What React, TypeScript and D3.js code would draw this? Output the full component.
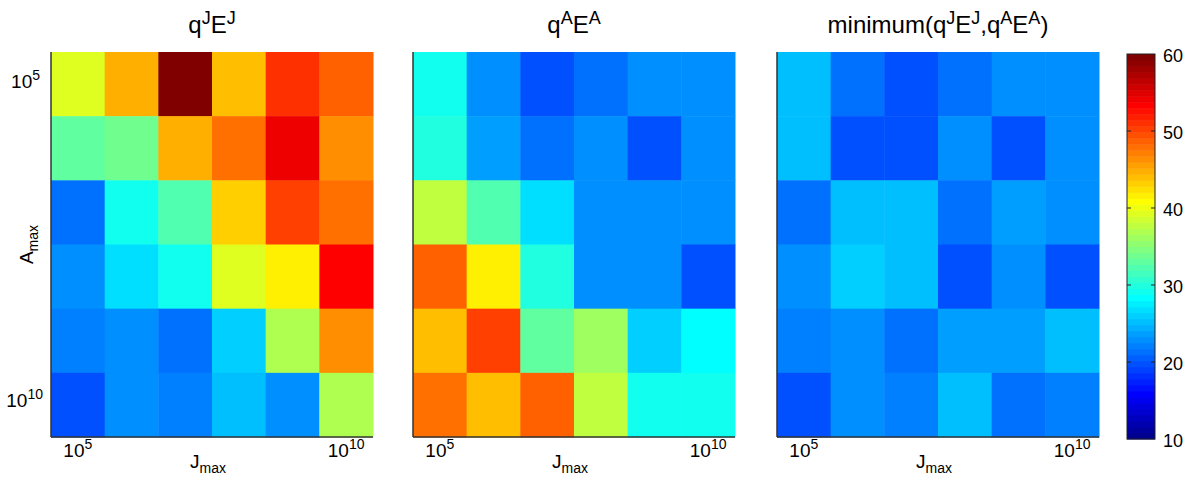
import React from 'react';
import * as d3 from 'd3';

// rows: A_max from 10^5 (top) to 10^10 (bottom); cols: J_max from 10^5 to 10^10
const qJEJ = [
  [39.6, 45.1, 60.0, 44.4, 51.4, 49.0],
  [33.4, 34.3, 45.1, 48.2, 54.5, 46.9],
  [21.8, 29.5, 32.6, 43.6, 50.6, 48.2],
  [23.2, 27.3, 29.5, 39.6, 42.0, 53.8],
  [22.5, 23.2, 21.8, 26.4, 37.4, 46.8],
  [20.1, 23.2, 22.5, 25.6, 23.2, 37.4],
];

const qAEA = [
  [29.5, 23.2, 20.1, 21.8, 23.2, 23.2],
  [30.3, 24.0, 21.8, 23.2, 20.1, 23.2],
  [38.1, 32.6, 27.3, 23.2, 23.6, 22.9],
  [49.0, 42.0, 30.3, 23.2, 23.2, 20.1],
  [44.4, 50.6, 33.4, 36.6, 26.4, 28.8],
  [48.2, 44.4, 49.0, 38.1, 29.5, 29.5],
];

const minQE = [
  [25.6, 21.8, 20.1, 21.8, 23.2, 23.2],
  [25.6, 20.1, 20.1, 23.2, 20.1, 23.2],
  [21.8, 25.6, 25.6, 21.8, 24.0, 22.9],
  [23.2, 26.4, 25.6, 20.1, 23.2, 20.1],
  [22.5, 23.2, 21.8, 24.0, 24.0, 25.6],
  [20.1, 23.2, 22.5, 25.6, 21.8, 22.5],
];

const colorTicks = [10, 20, 30, 40, 50, 60];
const cmin = 10;
const cmax = 60;

// matlab jet(64)
const jet = (i: number) => {
  const t = i / 64;
  const c = (x: number) => Math.round(255 * Math.max(0, Math.min(1, x)));
  return d3.rgb(c(1.5 - Math.abs(4 * t - 3)), c(1.5 - Math.abs(4 * t - 2)), c(1.5 - Math.abs(4 * t - 1))).formatHex();
};
const colorOf = (v: number) => {
  const idx = Math.max(1, Math.min(64, Math.round(((v - cmin) / (cmax - cmin)) * 64)));
  return jet(idx);
};

const font = 'Liberation Sans, Arial, sans-serif';
const top = 52;
const bottom = 437;
const panelW = 322;
const panels = [
  { x0: 51, data: qJEJ, title: [['q', ''], ['J', 'sup'], ['E', ''], ['J', 'sup']], yTicks: true },
  { x0: 413, data: qAEA, title: [['q', ''], ['A', 'sup'], ['E', ''], ['A', 'sup']], yTicks: false },
  {
    x0: 777,
    data: minQE,
    title: [['minimum(q', ''], ['J', 'sup'], ['E', ''], ['J', 'sup'], [',q', ''], ['A', 'sup'], ['E', ''], ['A', 'sup'], [')', '']],
    yTicks: false,
  },
];

const Title = ({ parts, x }: { parts: string[][]; x: number }) => (
  <text x={x} y={33} textAnchor="middle" fontSize={24} fontFamily={font} fill="#000">
    {parts.map(([s, k], i) =>
      k === 'sup' ? (
        <tspan key={i} dy={-9} fontSize={18}>{s}</tspan>
      ) : (
        <tspan key={i} dy={i > 0 && parts[i - 1][1] === 'sup' ? 9 : 0}>{s}</tspan>
      ),
    )}
  </text>
);

const Pow = ({ x, y, exp, anchor }: { x: number; y: number; exp: string; anchor: string }) => (
  <text x={x} y={y} textAnchor={anchor} fontSize={19} fontFamily={font}>
    <tspan>10</tspan>
    <tspan dy={-8} fontSize={14}>{exp}</tspan>
  </text>
);

const Panel = ({ x0, data, title, yTicks }: any) => {
  const cols = d3.range(6);
  const x = d3.scaleBand<number>().domain(cols).range([x0, x0 + panelW]);
  const y = d3.scaleBand<number>().domain(cols).range([top, bottom]);
  return (
    <g>
      {data.map((row: number[], r: number) =>
        row.map((v, c) => (
          <rect
            key={`${r}-${c}`}
            x={x(c)}
            y={y(r)}
            width={x.bandwidth() + 0.5}
            height={y.bandwidth() + 0.5}
            fill={colorOf(v)}
          />
        )),
      )}
      <line x1={x0} x2={x0} y1={top} y2={bottom} stroke="#333" strokeWidth={1.5} />
      <line x1={x0} x2={x0 + panelW} y1={bottom} y2={bottom} stroke="#333" strokeWidth={1.5} />
      <Title parts={title} x={x0 + panelW / 2} />
      <Pow x={x(0)! + x.bandwidth() / 2} y={457} exp="5" anchor="middle" />
      <Pow x={x(5)! + x.bandwidth() / 2} y={457} exp="10" anchor="middle" />
      <text x={x0 + panelW / 2 - 4} y={468} textAnchor="middle" fontSize={19} fontFamily={font}>
        <tspan>J</tspan>
        <tspan dy={5} fontSize={14}>max</tspan>
      </text>
      {yTicks && (
        <>
          <Pow x={40} y={y(0)! + y.bandwidth() / 2 + 4} exp="5" anchor="end" />
          <Pow x={43} y={y(5)! + y.bandwidth() / 2 + 2} exp="10" anchor="end" />
          <text
            transform={`translate(33, ${(top + bottom) / 2}) rotate(-90)`}
            textAnchor="middle"
            fontSize={19}
            fontFamily={font}
          >
            <tspan>A</tspan>
            <tspan dy={5} fontSize={14}>max</tspan>
          </text>
        </>
      )}
    </g>
  );
};

const ColorBar = () => {
  const cx = 1127;
  const cw = 28;
  const cTop = 54;
  const cBot = 439;
  const y = d3.scaleLinear().domain([cmin, cmax]).range([cBot, cTop]);
  const levels = d3.range(1, 65);
  return (
    <g>
      {levels.map((i) => (
        <rect
          key={i}
          x={cx}
          y={y(cmin + (i / 64) * (cmax - cmin))}
          width={cw}
          height={Math.abs(y(cmin) - y(cmin + (cmax - cmin) / 64)) + 0.5}
          fill={jet(i)}
        />
      ))}
      <rect x={cx} y={cTop} width={cw} height={cBot - cTop} fill="none" stroke="#222" strokeWidth={1} />
      {colorTicks.map((t) => (
        <g key={t}>
          {t > cmin && t < cmax && (
            <>
              <line x1={cx} x2={cx + 4} y1={y(t)} y2={y(t)} stroke="#222" />
              <line x1={cx + cw - 4} x2={cx + cw} y1={y(t)} y2={y(t)} stroke="#222" />
            </>
          )}
          <text x={1163} y={y(t) + 8} fontSize={18} fontFamily={font}>
            {t}
          </text>
        </g>
      ))}
    </g>
  );
};

export default function App() {
  return (
    <svg width={1188} height={477} style={{ position: 'absolute', left: 0, top: 0, background: '#fff' }}>
      <rect width={1188} height={477} fill="#fff" />
      {panels.map((p, i) => (
        <Panel key={i} {...p} />
      ))}
      <ColorBar />
    </svg>
  );
}
